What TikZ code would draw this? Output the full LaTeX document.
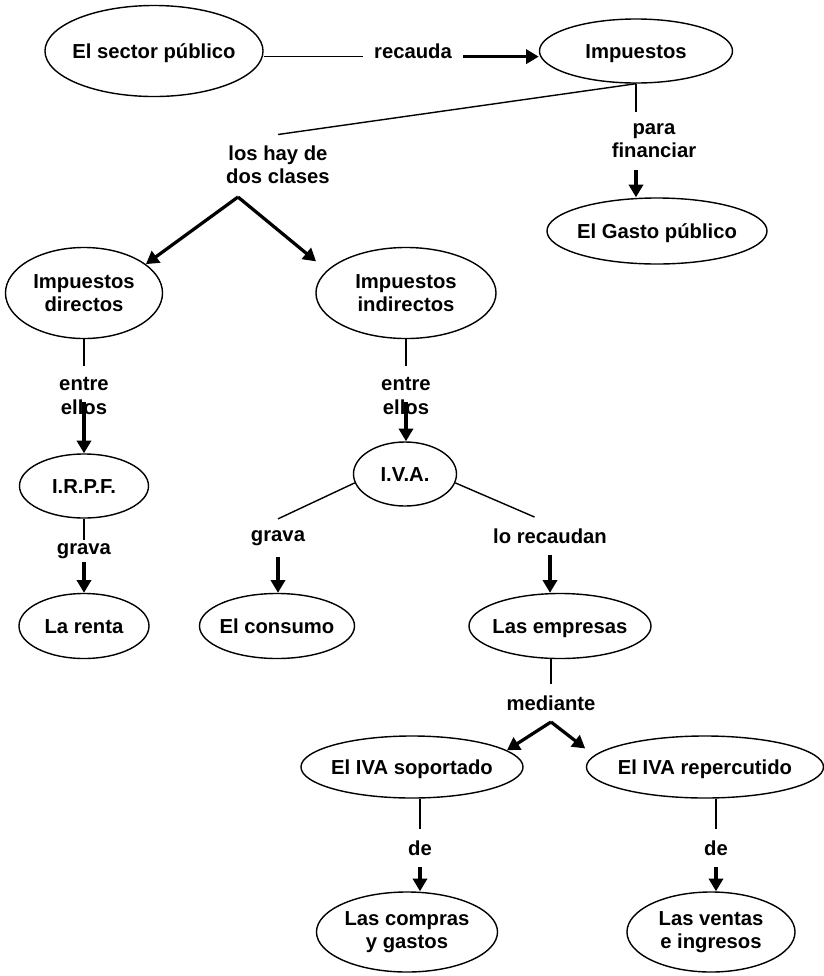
\documentclass[tikz,border=0pt]{standalone}
\usepackage{fontspec}
\setmainfont{Liberation Sans}
\usetikzlibrary{shapes.geometric,arrows.meta}

\tikzset{
  concept/.style={draw, ellipse, line width=1pt, inner xsep=-30pt, inner ysep=-8pt, align=center},
  oneline/.style={concept, text height=10pt, text depth=0pt},
  lbl/.style={inner sep=8pt, align=center},
  link/.style={line width=1pt},
  arr/.style={line width=2.3pt, -{Triangle[length=9pt,width=10pt]}},
}

\begin{document}
\begin{tikzpicture}[x=0.025cm, y=-0.025cm, font=\fontsize{14.4}{16.4}\selectfont\bfseries]
    \useasboundingbox (0,0) rectangle (824,976);

    % Define the concepts
    \node[oneline, minimum width=5.45cm, minimum height=2.275cm] (sector) at (154,51) {El sector público};
    \node[oneline, minimum width=4.825cm, minimum height=1.6cm] (impuestos) at (636,51) {Impuestos};
    \node[oneline, minimum width=5.5cm, minimum height=1.65cm] (gasto) at (657,231) {El Gasto público};
    \node[concept, minimum width=3.925cm, minimum height=2.275cm] (directos) at (84,293) {Impuestos\\directos};
    \node[concept, minimum width=4.5cm, minimum height=2.275cm] (indirectos) at (406,293) {Impuestos\\indirectos};
    \node[oneline, minimum width=3.225cm, minimum height=1.6cm] (irpf) at (84,486) {I.R.P.F.};
    \node[oneline, minimum width=2.575cm, minimum height=1.6cm] (iva) at (405,474) {I.V.A.};
    \node[oneline, minimum width=3.25cm, minimum height=1.625cm] (renta) at (84,626) {La renta};
    \node[oneline, minimum width=3.875cm, minimum height=1.625cm] (consumo) at (277,626) {El consumo};
    \node[oneline, minimum width=4.55cm, minimum height=1.625cm] (empresas) at (560,626) {Las empresas};
    \node[oneline, minimum width=5.55cm, minimum height=1.55cm] (soportado) at (412,767) {El IVA soportado};
    \node[oneline, minimum width=5.925cm, minimum height=1.55cm] (repercutido) at (705,767) {El IVA repercutido};
    \node[concept, minimum width=4.525cm, minimum height=2cm] (compras) at (407,932) {Las compras\\y gastos};
    \node[concept, minimum width=4.2cm, minimum height=2cm] (ventas) at (711,932) {Las ventas\\e ingresos};

    % Linking words
    \node[lbl] (recauda) at (413,51) {recauda};
    \node[lbl] (loshay) at (278,165) {los hay de\\dos clases};
    \node[lbl] (para) at (654,141) {para\\financiar};
    \node[lbl] (entre1) at (84,396) {entre\\ellos};
    \node[lbl] (entre2) at (406,396) {entre\\ellos};
    \node[lbl, inner sep=2pt] (grava1) at (84,551) {grava};
    \node[lbl] (grava2) at (278,538) {grava};
    \node[lbl] (recaudan) at (550,536) {lo recaudan};
    \node[lbl] (mediante) at (551,703) {mediante};
    \node[lbl] (de1) at (420,848) {de};
    \node[lbl] (de2) at (716,848) {de};

    \coordinate (fork) at (238,197);

    % Top part
    \draw[link] ([yshift=-4pt]sector.east) -- ([yshift=-4pt]recauda.west);
    \draw[arr] ([yshift=-4pt]recauda.east) -- ([yshift=-4pt]impuestos.west);
    \draw[link] (impuestos.south) -- (loshay.north);
    \draw[link] (impuestos.south) -- (impuestos.south |- para.north);
    \draw[arr] (impuestos.south |- para.south) -- (impuestos.south |- gasto.north);
    \draw[arr] (fork) -- (directos.25);
    \draw[arr, shorten >=10pt] (fork) -- (indirectos.164);

    % Left branch
    \draw[link] (directos.south) -- (entre1.north);
    \draw[arr] ([yshift=-4pt]entre1.center) -- (irpf.north);
    \draw[link] (irpf.south) -- (grava1.north);
    \draw[arr] (grava1.south) -- (renta.north);

    % Middle branch
    \draw[link] (indirectos.south) -- (entre2.north);
    \draw[arr] ([yshift=-4pt]entre2.center) -- (entre2.center |- iva.north);
    \draw[link] (iva.190) -- (grava2.north);
    \draw[arr] (grava2.south) -- (grava2.south |- consumo.north);
    \draw[link] (iva.350) -- ([xshift=-11pt]recaudan.north);
    \draw[arr] (recaudan.south) -- (recaudan.south |- empresas.north);

    % Bottom part
    \draw[link] (mediante.north |- empresas.south) -- (mediante.north);
    \draw[arr] (mediante.south) -- (soportado.10);
    \draw[arr, shorten >=8pt] (mediante.south) -- (repercutido.174);
    \draw[link] (de1.north |- soportado.south) -- (de1.north);
    \draw[arr] (de1.south) -- (de1.south |- compras.north);
    \draw[link] (de2.north |- repercutido.south) -- (de2.north);
    \draw[arr] (de2.south) -- (de2.south |- ventas.north);

\end{tikzpicture}
\end{document}
